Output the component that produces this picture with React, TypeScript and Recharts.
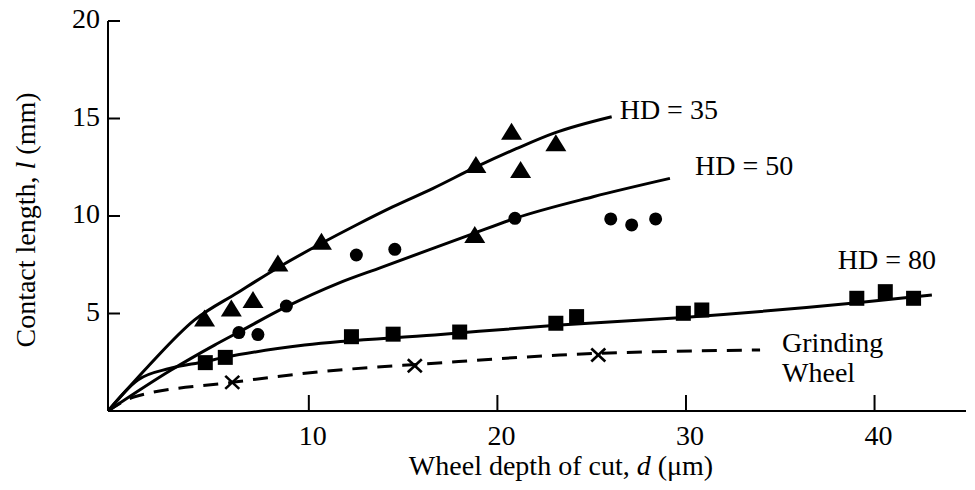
import React from "react";
import { ComposedChart, Line, Scatter, XAxis, YAxis, Label } from "recharts";

const FONT = '"Liberation Serif", "Times New Roman", serif';

// axis ticks
const depthTicks = [10, 20, 30, 40];
const lengthTicks = [5, 10, 15, 20];

// fitted curves, [depth d (um), contact length l (mm)]
const hd35Curve = [
  [-0.65, 0], [1.46, 2.27], [3.94, 4.67], [6.24, 6.08], [8.45, 7.4], [10.67, 8.6],
  [12.52, 9.54], [14.47, 10.48], [16.59, 11.42], [18.9, 12.53], [21.0, 13.45],
  [23.0, 14.25], [26.06, 15.09],
];
const hd50Curve = [
  [-0.65, 0], [2.7, 2.1], [5.0, 3.38], [6.33, 4.07], [8.81, 5.35], [11.55, 6.55],
  [13.85, 7.37], [18.54, 9.03], [20.93, 9.88], [25.08, 10.99], [29.15, 11.93],
];
const hd80Curve = [
  [-0.65, 0], [0.93, 1.59], [2.61, 2.18], [4.47, 2.53], [5.53, 2.75], [9.78, 3.38],
  [16.68, 3.9], [23.31, 4.41], [29.86, 4.8], [39.06, 5.55], [43.04, 5.95],
];
const wheelCurve = [
  [-0.65, 0], [0.76, 0.73], [5.94, 1.47], [10.67, 2.02], [16.68, 2.45],
  [23.31, 2.87], [33.93, 3.13],
];

// measured points
const trianglePts = [
  [4.47, 4.75], [5.89, 5.26], [7.04, 5.69], [8.36, 7.57], [10.67, 8.68],
  [18.86, 12.62], [18.8, 9.03], [20.75, 14.32], [21.23, 12.36], [23.1, 13.73],
];
const circlePts = [
  [6.29, 4.02], [7.3, 3.92], [8.81, 5.38], [12.52, 8.0], [14.56, 8.29],
  [20.93, 9.88], [26.01, 9.85], [27.12, 9.54], [28.39, 9.85],
];
const squarePts = [
  [4.51, 2.48], [5.57, 2.75], [12.26, 3.81], [14.47, 3.94], [18.0, 4.05], [23.1, 4.5],
  [24.2, 4.84], [29.86, 5.01], [30.84, 5.18], [39.06, 5.78], [40.57, 6.12], [42.07, 5.78],
];
const crossPts = [[5.94, 1.47], [15.62, 2.32], [25.35, 2.87]];

// curve labels, anchored at the end of each curve
const curveLabels = [
  { lines: ["HD = 35"], at: hd35Curve[hd35Curve.length - 1] },
  { lines: ["HD = 50"], at: hd50Curve[hd50Curve.length - 1] },
  { lines: ["HD = 80"], at: hd80Curve[hd80Curve.length - 1] },
  { lines: ["Grinding", "Wheel"], at: wheelCurve[wheelCurve.length - 1] },
];
const labelOffsets = [
  { dx: 8, dy: 2 },
  { dx: 25, dy: -3 },
  { dx: -94, dy: -26 },
  { dx: 22, dy: 2 },
];

const toRows = (pts: number[][]) => pts.map(([d, l]) => ({ d, l }));

const XTick = (props: any) => {
  const { x, y, payload } = props;
  return (
    <g>
      <line x1={x} y1={y} x2={x} y2={y - 16} stroke="#000" strokeWidth={2} />
      <text x={x + 4} y={y + 34} textAnchor="middle" fontSize={28} fontFamily={FONT} fill="#000">
        {payload.value}
      </text>
    </g>
  );
};

const YTick = (props: any) => {
  const { x, y, payload } = props;
  return (
    <g>
      <line x1={x} y1={y} x2={x + 12} y2={y} stroke="#000" strokeWidth={2} />
      <text x={x - 8} y={y + 7} textAnchor="end" fontSize={28} fontFamily={FONT} fill="#000">
        {payload.value}
      </text>
    </g>
  );
};

const Triangle = ({ cx, cy }: any) => (
  <polygon points={`${cx},${cy - 9} ${cx - 10.5},${cy + 8} ${cx + 10.5},${cy + 8}`} fill="#000" />
);
const Dot = ({ cx, cy }: any) => <circle cx={cx} cy={cy} r={6.5} fill="#000" />;
const Square = ({ cx, cy }: any) => <rect x={cx - 7.5} y={cy - 7.5} width={15} height={15} fill="#000" />;
const Cross = ({ cx, cy }: any) => (
  <g stroke="#000" strokeWidth={2.6}>
    <line x1={cx - 7} y1={cy - 6.5} x2={cx + 7} y2={cy + 6.5} />
    <line x1={cx - 7} y1={cy + 6.5} x2={cx + 7} y2={cy - 6.5} />
  </g>
);

const CurveLabel = (props: any) => {
  const { cx, cy, payload } = props;
  const off = labelOffsets[payload.idx];
  return (
    <text x={cx + off.dx} y={cy + off.dy} fontSize={28} fontFamily={FONT} fill="#000">
      {payload.lines.map((t: string, i: number) => (
        <tspan key={i} x={cx + off.dx} dy={i === 0 ? 0 : 30}>
          {t}
        </tspan>
      ))}
    </text>
  );
};

export default function App() {
  const labelRows = curveLabels.map((c, idx) => ({ d: c.at[0], l: c.at[1], lines: c.lines, idx }));

  return (
    <div style={{ position: "absolute", left: 0, top: 0, width: 975, height: 490, background: "#fff" }}>
      <ComposedChart width={975} height={490} margin={{ top: 21, right: 9, bottom: 0, left: 0 }}>
        <XAxis
          type="number"
          dataKey="d"
          domain={[-0.65, 44.85]}
          allowDataOverflow
          ticks={depthTicks}
          height={79}
          tickSize={0}
          tickMargin={0}
          tickLine={false}
          axisLine={{ stroke: "#000", strokeWidth: 2 }}
          tick={<XTick />}
        >
          <Label
            content={({ viewBox }: any) => {
              const vb = viewBox || { x: 108, y: 411, width: 858 };
              return (
                <text
                  x={vb.x + vb.width / 2 + 24}
                  y={vb.y + 64}
                  textAnchor="middle"
                  fontSize={28}
                  fontFamily={FONT}
                  fill="#000"
                >
                  Wheel depth of cut, <tspan fontStyle="italic">d</tspan> (μm)
                </text>
              );
            }}
          />
        </XAxis>
        <YAxis
          type="number"
          dataKey="l"
          domain={[0, 20]}
          allowDataOverflow
          ticks={lengthTicks}
          width={108}
          tickSize={0}
          tickMargin={0}
          tickLine={false}
          axisLine={{ stroke: "#000", strokeWidth: 2 }}
          tick={<YTick />}
        >
          <Label
            content={({ viewBox }: any) => {
              const vb = viewBox || { x: 0, y: 21, height: 390 };
              const cx = vb.x + 35;
              const cy = vb.y + vb.height / 2 + 4;
              return (
                <text
                  x={cx}
                  y={cy}
                  transform={`rotate(-90 ${cx} ${cy})`}
                  textAnchor="middle"
                  fontSize={28}
                  fontFamily={FONT}
                  fill="#000"
                >
                  Contact length, <tspan fontStyle="italic">l</tspan> (mm)
                </text>
              );
            }}
          />
        </YAxis>

        <Line data={toRows(hd35Curve)} dataKey="l" type="monotone" stroke="#000" strokeWidth={3} dot={false} isAnimationActive={false} />
        <Line data={toRows(hd50Curve)} dataKey="l" type="monotone" stroke="#000" strokeWidth={3} dot={false} isAnimationActive={false} />
        <Line data={toRows(hd80Curve)} dataKey="l" type="monotone" stroke="#000" strokeWidth={3} dot={false} isAnimationActive={false} />
        <Line
          data={toRows(wheelCurve)}
          dataKey="l"
          type="monotone"
          stroke="#000"
          strokeWidth={3}
          strokeDasharray="15 10"
          dot={false}
          isAnimationActive={false}
        />

        <Scatter data={toRows(trianglePts)} shape={<Triangle />} isAnimationActive={false} />
        <Scatter data={toRows(circlePts)} shape={<Dot />} isAnimationActive={false} />
        <Scatter data={toRows(squarePts)} shape={<Square />} isAnimationActive={false} />
        <Scatter data={toRows(crossPts)} shape={<Cross />} isAnimationActive={false} />
        <Scatter data={labelRows} shape={<CurveLabel />} isAnimationActive={false} />
      </ComposedChart>
    </div>
  );
}
